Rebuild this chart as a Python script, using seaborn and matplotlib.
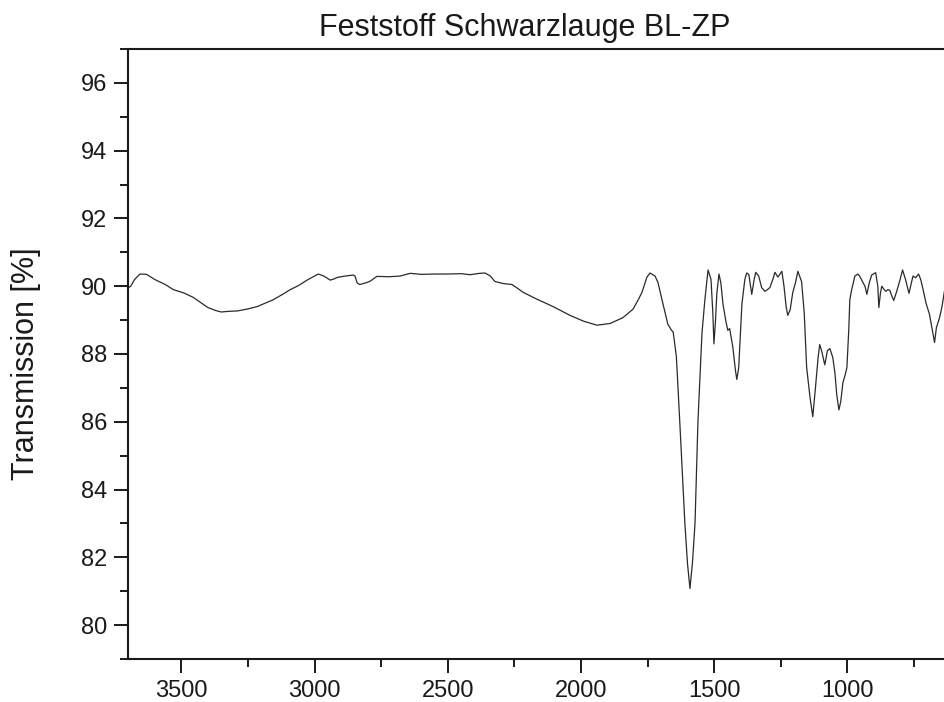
import matplotlib
matplotlib.use("Agg")
import matplotlib.pyplot as plt
import seaborn as sns
import pandas as pd
from matplotlib.ticker import MultipleLocator

# IR spectrum (wavenumber in cm^-1, transmission in %)
wavenumber = [
    3700, 3690, 3675, 3655, 3630, 3600, 3560, 3530, 3490, 3455, 3420, 3400,
    3370, 3350, 3320, 3290, 3250, 3215, 3185, 3155, 3120, 3091, 3060, 3028,
    3000, 2986, 2965, 2941, 2925, 2915, 2885, 2855, 2848, 2840, 2830, 2816,
    2800, 2791, 2766, 2720, 2679, 2641, 2600, 2550, 2500, 2450, 2416, 2380,
    2360, 2340, 2323, 2292, 2259, 2240, 2217, 2166, 2105, 2041, 1991, 1940,
    1891, 1843, 1805, 1785, 1771, 1753, 1741, 1722, 1711, 1692, 1674, 1660,
    1654, 1642, 1629, 1610, 1600, 1591, 1582, 1572, 1561, 1546, 1535, 1523,
    1512, 1505, 1501, 1495, 1490, 1482, 1475, 1467, 1456, 1449, 1442, 1438,
    1430, 1420, 1415, 1408, 1396, 1385, 1378, 1370, 1359, 1350, 1344, 1333,
    1322, 1310, 1300, 1291, 1280, 1272, 1261, 1246, 1238, 1230, 1224, 1215,
    1205, 1195, 1186, 1172, 1162, 1153, 1140, 1130, 1120, 1110, 1104, 1097,
    1085, 1075, 1066, 1055, 1047, 1040, 1032, 1025, 1017, 1008, 1002, 995,
    991, 984, 972, 961, 954, 942, 934, 927, 918, 909, 894, 886,
    882, 876, 871, 862, 856, 848, 841, 833, 826, 815, 804, 793,
    782, 769, 760, 754, 744, 733, 725, 716, 705, 692, 679, 673,
    666, 654, 645, 636, 625, 615,
]
transmission = [
    89.95, 90.0, 90.2, 90.36, 90.35, 90.2, 90.05, 89.9, 89.8, 89.67, 89.48, 89.37,
    89.28, 89.24, 89.26, 89.27, 89.33, 89.4, 89.5, 89.6, 89.76, 89.9, 90.02, 90.18,
    90.3, 90.36, 90.3, 90.18, 90.22, 90.26, 90.3, 90.33, 90.3, 90.1, 90.05, 90.08,
    90.12, 90.15, 90.29, 90.28, 90.3, 90.38, 90.35, 90.36, 90.36, 90.37, 90.34, 90.38,
    90.39, 90.3, 90.14, 90.08, 90.05, 89.95, 89.82, 89.62, 89.4, 89.14, 88.97, 88.85,
    88.9, 89.07, 89.32, 89.6, 89.82, 90.26, 90.39, 90.3, 90.11, 89.47, 88.88, 88.7,
    88.65, 87.93, 85.97, 83.0, 81.8, 81.08, 81.8, 83.0, 86.0, 88.6, 89.6, 90.48,
    90.2, 89.2, 88.3, 89.0, 89.8, 90.36, 90.1, 89.47, 88.96, 88.7, 88.75, 88.58,
    88.2, 87.5, 87.25, 87.6, 89.47, 90.2, 90.39, 90.35, 89.76, 90.2, 90.41, 90.3,
    89.96, 89.85, 89.9, 89.96, 90.2, 90.41, 90.27, 90.44, 90.0, 89.4, 89.14, 89.3,
    89.82, 90.1, 90.44, 90.14, 89.2, 87.6, 86.7, 86.15, 87.0, 87.9, 88.28, 88.1,
    87.68, 88.1, 88.16, 87.9, 87.45, 86.8, 86.35, 86.6, 87.15, 87.4, 87.6, 88.7,
    89.6, 89.9, 90.3, 90.36, 90.3, 90.11, 90.0, 89.76, 90.1, 90.33, 90.4, 90.0,
    89.37, 89.8, 90.0, 89.9, 89.85, 89.9, 89.88, 89.7, 89.58, 89.85, 90.15, 90.48,
    90.2, 89.79, 90.1, 90.3, 90.25, 90.36, 90.2, 89.9, 89.5, 89.17, 88.6, 88.34,
    88.78, 89.08, 89.4, 89.85, 90.1, 90.2,
]

title = "Feststoff Schwarzlauge BL-ZP"
y_label = "Transmission [%]"

sns.set_style("ticks")
plt.rcParams["font.family"] = ["Liberation Sans", "DejaVu Sans"]

df = pd.DataFrame({"Wavenumber": wavenumber, "Transmission": transmission})

fig = plt.figure(figsize=(9.45, 7.02), dpi=100)
ax = fig.add_axes([128 / 945, 43 / 702, (954 - 128) / 945, 610 / 702])

sns.lineplot(data=df, x="Wavenumber", y="Transmission", ax=ax,
             color="#2a2a2a", linewidth=0.9)

ax.set_xlim(3700, 600)
ax.set_ylim(79, 97)
ax.xaxis.set_major_locator(MultipleLocator(500))
ax.xaxis.set_minor_locator(MultipleLocator(250))
ax.yaxis.set_major_locator(MultipleLocator(2))
ax.yaxis.set_minor_locator(MultipleLocator(1))
ax.tick_params(which="major", direction="out", length=10, width=1.4,
               labelsize=17, pad=5, color="#1a1a1a", labelcolor="#1a1a1a")
ax.tick_params(which="minor", direction="out", length=6, width=1.4, color="#1a1a1a")
ax.tick_params(top=False, right=False, which="both")

for side in ["top", "bottom", "left", "right"]:
    ax.spines[side].set_linewidth(1.5)
    ax.spines[side].set_color("#1a1a1a")

ax.set_xlabel("")
ax.set_ylabel("")
fig.text(26 / 945, (702 - 364) / 702, y_label, rotation=90, ha="center",
         va="center", fontsize=22, color="#1a1a1a")
fig.text(525 / 945, (702 - 36) / 702, title, ha="center", va="baseline",
         fontsize=22, color="#1a1a1a")

fig.savefig("out.png", dpi=100)
